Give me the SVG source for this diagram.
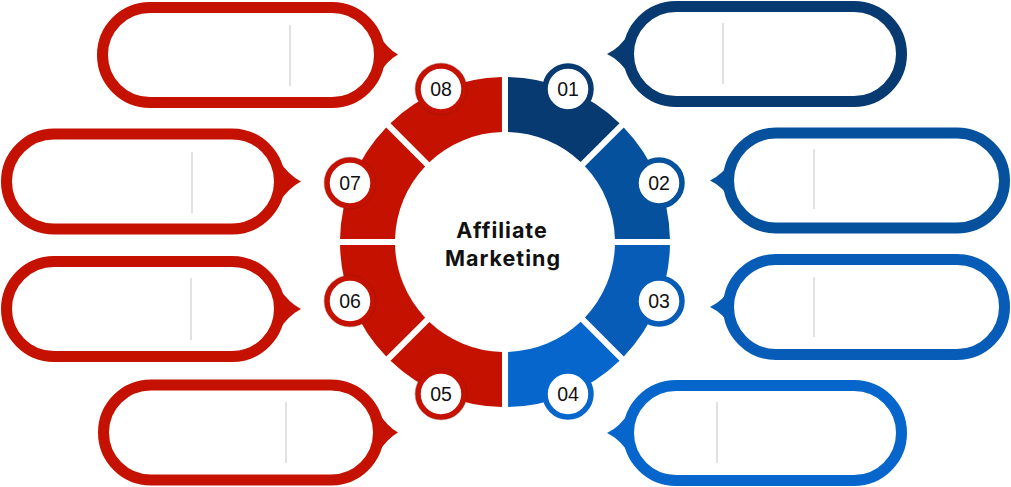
<svg xmlns="http://www.w3.org/2000/svg" width="1011" height="487" viewBox="0 0 1011 487">
<style>
.pill{fill:#fff;stroke-width:11}
.div{stroke:#d2d2d2;stroke-width:1.3}
.num{font-family:"Liberation Sans",Arial,sans-serif;font-size:19.5px;fill:#111;text-anchor:middle}
.badge{fill:#fff;stroke-width:5.5}
.title{font-family:Inter,"Liberation Sans",Arial,sans-serif;font-weight:700;font-size:21.5px;fill:#111;text-anchor:middle;letter-spacing:1px}
.red{fill:#c51200}.redS{stroke:#c51200}
.b1{fill:#063a70}.b1S{stroke:#063a70}
.b2{fill:#05519d}.b2S{stroke:#05519d}
.b3{fill:#065cb7}.b3S{stroke:#065cb7}
.b4{fill:#0666cc}.b4S{stroke:#0666cc}
</style>
<defs>
<path id="seg" d="M508,77.03 A165,165 0 0 1 619.49,123.18 L580.6,162.1 A110,110 0 0 0 508,132.04 Z"/>
</defs>
<rect width="1011" height="487" fill="#fff"/>

<!-- left pills (red, pointer right) -->
<g id="pill08">
<path class="red" d="M377,32.5 Q387,48.5 398,54.5 Q387,60.5 377,76.5 Z"/>
<rect class="pill redS" x="102.5" y="7.5" width="277" height="95" rx="47.5"/>
<line class="div" x1="290" y1="25" x2="290" y2="86"/>
</g>
<g id="pill07">
<path class="red" d="M278,159.5 Q289,175.5 301,181.5 Q289,187.5 278,203.5 Z"/>
<rect class="pill redS" x="6.5" y="134" width="273" height="95" rx="47.5"/>
<line class="div" x1="192" y1="152" x2="192" y2="213"/>
</g>
<g id="pill06">
<path class="red" d="M278,287 Q289,303 301,309 Q289,315 278,331 Z"/>
<rect class="pill redS" x="6.5" y="261.5" width="273" height="95" rx="47.5"/>
<line class="div" x1="191" y1="278" x2="191" y2="340"/>
</g>
<g id="pill05">
<path class="red" d="M377,410.5 Q387,426.5 398,432.5 Q387,438.5 377,454.5 Z"/>
<rect class="pill redS" x="103.5" y="385" width="275" height="95" rx="47.5"/>
<line class="div" x1="286" y1="402" x2="286" y2="463"/>
</g>

<!-- right pills (blue, pointer left) -->
<g id="pill01">
<path class="b1" d="M630,32 Q620,48 607,54 Q620,60 630,76 Z"/>
<rect class="pill b1S" x="628.5" y="6.5" width="273" height="95" rx="47.5"/>
<line class="div" x1="723" y1="23" x2="723" y2="84"/>
</g>
<g id="pill02">
<path class="b2" d="M733,158.5 Q723,174.5 710,180.5 Q723,186.5 733,202.5 Z"/>
<rect class="pill b2S" x="728.5" y="133" width="276" height="95" rx="47.5"/>
<line class="div" x1="814" y1="149" x2="814" y2="209"/>
</g>
<g id="pill03">
<path class="b3" d="M733,285 Q723,301 710,307 Q723,313 733,329 Z"/>
<rect class="pill b3S" x="728.5" y="259.5" width="276" height="95" rx="47.5"/>
<line class="div" x1="814" y1="277" x2="814" y2="337"/>
</g>
<g id="pill04">
<path class="b4" d="M630,411 Q620,427 607,433 Q620,439 630,455 Z"/>
<rect class="pill b4S" x="628.5" y="385.5" width="273" height="95" rx="47.5"/>
<line class="div" x1="717" y1="402" x2="717" y2="463"/>
</g>

<!-- ring segments -->
<g id="ring">
<use href="#seg" class="b1"/>
<use href="#seg" class="b2" transform="rotate(45 505 242)"/>
<use href="#seg" class="b3" transform="rotate(90 505 242)"/>
<use href="#seg" class="b4" transform="rotate(135 505 242)"/>
<use href="#seg" class="red" transform="rotate(180 505 242)"/>
<use href="#seg" class="red" transform="rotate(225 505 242)"/>
<use href="#seg" class="red" transform="rotate(270 505 242)"/>
<use href="#seg" class="red" transform="rotate(315 505 242)"/>
</g>

<g id="center">
<text class="title" x="502" y="238">Affiliate</text>
<text class="title" x="503" y="266">Marketing</text>
</g>

<!-- badges -->
<g id="badge01"><circle class="badge b1S" cx="568" cy="89" r="23"/><text class="num" x="568" y="96">01</text></g>
<g id="badge02"><circle class="badge b2S" cx="659" cy="183" r="23"/><text class="num" x="659" y="190">02</text></g>
<g id="badge03"><circle class="badge b3S" cx="659" cy="301" r="23"/><text class="num" x="659" y="308">03</text></g>
<g id="badge04"><circle class="badge b4S" cx="568" cy="394" r="23"/><text class="num" x="568" y="401">04</text></g>
<g id="badge05"><circle class="badge redS" cx="441" cy="394" r="23"/><circle cx="441" cy="394" r="26" fill="none" stroke="#5a1a12" stroke-opacity="0.3" stroke-width="0.8"/><text class="num" x="441" y="401">05</text></g>
<g id="badge06"><circle class="badge redS" cx="350" cy="301" r="23"/><circle cx="350" cy="301" r="26" fill="none" stroke="#5a1a12" stroke-opacity="0.3" stroke-width="0.8"/><text class="num" x="350" y="308">06</text></g>
<g id="badge07"><circle class="badge redS" cx="350" cy="183" r="23"/><circle cx="350" cy="183" r="26" fill="none" stroke="#5a1a12" stroke-opacity="0.3" stroke-width="0.8"/><text class="num" x="350" y="190">07</text></g>
<g id="badge08"><circle class="badge redS" cx="441" cy="89" r="23"/><circle cx="441" cy="89" r="26" fill="none" stroke="#5a1a12" stroke-opacity="0.3" stroke-width="0.8"/><text class="num" x="441" y="96">08</text></g>
</svg>
